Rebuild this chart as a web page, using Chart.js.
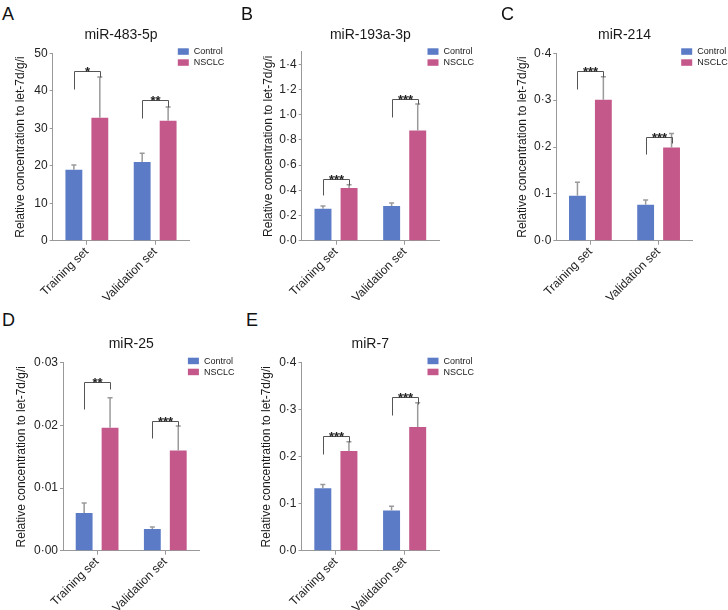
<!DOCTYPE html>
<html><head><meta charset="utf-8">
<script src="https://cdn.jsdelivr.net/npm/chart.js@4/dist/chart.umd.min.js"></script>
<style>
html,body{margin:0;padding:0;background:#fff}
body{width:728px;height:610px;position:relative;overflow:hidden;font-family:"Liberation Sans",Arial,sans-serif}
canvas{position:absolute}
.lbl{position:absolute;font-size:18px;line-height:18px;color:#111;font-family:"Liberation Sans",Arial,sans-serif}
</style></head><body>
<script>
// ---------- DATA ----------
const categories = ['Training set', 'Validation set'];
const seriesNames = ['Control', 'NSCLC'];
const panelLetters = ['A', 'B', 'C', 'D', 'E'];
const panelTitles = ['miR-483-5p', 'miR-193a-3p', 'miR-214', 'miR-25', 'miR-7'];
const yAxisTitle = 'Relative concentration to let-7d/g/i';

// A: miR-483-5p
const aControl = [18.9, 21.0];
const aControlErr = [1.3, 2.3];
const aNsclc = [32.8, 32.0];
const aNsclcErr = [10.9, 3.7];
const aSigLevel = [45.2, 37.6];
const aSigLabels = ['*', '**'];
const aTicks = {max: 50, top: 50, step: 10, decimals: 0};

// B: miR-193a-3p
const bControl = [0.253, 0.275];
const bControlErr = [0.022, 0.025];
const bNsclc = [0.419, 0.875];
const bNsclcErr = [0.026, 0.21];
const bSigLevel = [0.488, 1.128];
const bSigLabels = ['***', '***'];
const bTicks = {max: 1.5, top: 1.4, step: 0.2, decimals: 1};

// C: miR-214
const cControl = [0.096, 0.077];
const cControlErr = [0.029, 0.010];
const cNsclc = [0.301, 0.199];
const cNsclcErr = [0.049, 0.030];
const cSigLevel = [0.363, 0.2206];
const cSigLabels = ['***', '***'];
const cTicks = {max: 0.4, top: 0.4, step: 0.1, decimals: 1};

// D: miR-25
const dControl = [0.0060, 0.00347];
const dControlErr = [0.0016, 0.00032];
const dNsclc = [0.0196, 0.0160];
const dNsclcErr = [0.0048, 0.0039];
const dSigLevel = [0.02685, 0.02071];
const dSigLabels = ['**', '***'];
const dTicks = {max: 0.03, top: 0.03, step: 0.01, decimals: 2};

// E: miR-7
const eControl = [0.133, 0.0854];
const eControlErr = [0.008, 0.0093];
const eNsclc = [0.212, 0.263];
const eNsclcErr = [0.020, 0.052];
const eSigLevel = [0.2441, 0.326];
const eSigLabels = ['***', '***'];
const eTicks = {max: 0.4, top: 0.4, step: 0.1, decimals: 1};

// ---------- STYLE / LAYOUT ----------
const FONT = '"Liberation Sans", Arial, sans-serif';
const COLORS = ['#5b7bc6', '#c5588a'];
const layouts = [
  {left: 0,   top: 0,   w: 243, h: 305, cl: 52.7, cr: 189.3, ct: 53.3, cb: 240.7, hy: 53.3, tx: 20.5, legs: [[18, 6], [18, 7]], lx: 2,   ly: 4.7},
  {left: 243, top: 0,   w: 243, h: 305, cl: 58.7, cr: 196,   ct: 51.7, cb: 240.7, hy: 53.3, tx: 25.5, legs: [[16, 6], [18, 5]], lx: 241, ly: 4.7},
  {left: 486, top: 0,   w: 242, h: 305, cl: 70.3, cr: 206.7, ct: 53.3, cb: 240.7, hy: 53.3, tx: 37,   legs: [[18, 6], [17, 6]], lx: 501, ly: 4.7},
  {left: 0,   top: 305, w: 243, h: 305, cl: 63,   cr: 199.4, ct: 57.7, cb: 245.7, hy: 57.7, tx: 22,   legs: [[27, 7], [17, 5]], lx: 2,   ly: 310.5},
  {left: 243, top: 305, w: 243, h: 305, cl: 58.5, cr: 196,   ct: 57.7, cb: 245.7, hy: 57.7, tx: 24,   legs: [[18, 6], [18, 7]], lx: 246, ly: 310.5}
];

const panels = [
  {ctl: aControl, ctlErr: aControlErr, ns: aNsclc, nsErr: aNsclcErr, sig: aSigLevel, sigLabels: aSigLabels, ticks: aTicks},
  {ctl: bControl, ctlErr: bControlErr, ns: bNsclc, nsErr: bNsclcErr, sig: bSigLevel, sigLabels: bSigLabels, ticks: bTicks},
  {ctl: cControl, ctlErr: cControlErr, ns: cNsclc, nsErr: cNsclcErr, sig: cSigLevel, sigLabels: cSigLabels, ticks: cTicks},
  {ctl: dControl, ctlErr: dControlErr, ns: dNsclc, nsErr: dNsclcErr, sig: dSigLevel, sigLabels: dSigLabels, ticks: dTicks},
  {ctl: eControl, ctlErr: eControlErr, ns: eNsclc, nsErr: eNsclcErr, sig: eSigLevel, sigLabels: eSigLabels, ticks: eTicks}
];

const overlay = {
  id: 'overlay',
  afterDatasetsDraw(chart, args, o) {
    const ctx = chart.ctx;
    const ys = chart.scales.y;
    ctx.save();
    o.errors.forEach((errArr, di) => {
      const meta = chart.getDatasetMeta(di);
      meta.data.forEach((bar, j) => {
        const v = chart.data.datasets[di].data[j];
        const top = ys.getPixelForValue(v + errArr[j]);
        ctx.strokeStyle = '#9a9a9a';
        ctx.lineWidth = 1.5;
        ctx.beginPath();
        ctx.moveTo(bar.x, bar.y);
        ctx.lineTo(bar.x, top);
        ctx.moveTo(bar.x - 2.5, top);
        ctx.lineTo(bar.x + 2.5, top);
        ctx.stroke();
      });
    });
    const m0 = chart.getDatasetMeta(0), m1 = chart.getDatasetMeta(1);
    o.sig.forEach((lvl, j) => {
      const y = Math.round(ys.getPixelForValue(lvl)) + 0.5;
      const x0 = Math.round(m0.data[j].x) + 0.5, x1 = Math.round(m1.data[j].x) + 0.5;
      ctx.strokeStyle = '#555';
      ctx.lineWidth = 1;
      ctx.beginPath();
      ctx.moveTo(x0, y + o.legs[j][0]);
      ctx.lineTo(x0, y);
      ctx.lineTo(x1, y);
      ctx.lineTo(x1, y + o.legs[j][1]);
      ctx.stroke();
      ctx.fillStyle = '#222';
      ctx.font = 'bold 13px ' + FONT;
      ctx.textAlign = 'center';
      ctx.textBaseline = 'alphabetic';
      ctx.fillText(o.sigLabels[j], (x0 + x1) / 2, y + 4);
    });
    ctx.restore();
  },
  afterDraw(chart, args, o) {
    const ctx = chart.ctx;
    const ca = chart.chartArea;
    ctx.save();
    ctx.fillStyle = '#1a1a1a';
    ctx.font = '14px ' + FONT;
    ctx.textAlign = 'center';
    ctx.textBaseline = 'alphabetic';
    ctx.fillText(o.title, (ca.left + ca.right) / 2, o.hy - 14.5);
    const sx = ca.right - 11.5;
    chart.data.datasets.forEach((ds, i) => {
      const sy = o.hy - 5 + i * 11;
      ctx.fillStyle = ds.backgroundColor;
      ctx.fillRect(sx, sy, 11, 6.5);
      ctx.fillStyle = '#1a1a1a';
      ctx.font = '9px ' + FONT;
      ctx.textAlign = 'left';
      ctx.textBaseline = 'middle';
      ctx.fillText(ds.label, sx + 16, sy + 3.5);
    });
    ctx.restore();
  }
};

panels.forEach((p, k) => {
  const L = layouts[k];
  const letter = document.createElement('div');
  letter.className = 'lbl';
  letter.style.left = L.lx + 'px';
  letter.style.top = L.ly + 'px';
  letter.textContent = panelLetters[k];
  document.body.appendChild(letter);

  const cv = document.createElement('canvas');
  cv.width = L.w; cv.height = L.h;
  cv.style.left = L.left + 'px'; cv.style.top = L.top + 'px';
  cv.style.width = L.w + 'px'; cv.style.height = L.h + 'px';
  document.body.appendChild(cv);

  const fmt = v => v.toFixed(p.ticks.decimals).replace('.', '\u00B7');

  new Chart(cv.getContext('2d'), {
    type: 'bar',
    data: {
      labels: categories,
      datasets: [
        {label: seriesNames[0], data: p.ctl, backgroundColor: COLORS[0]},
        {label: seriesNames[1], data: p.ns, backgroundColor: COLORS[1]}
      ]
    },
    options: {
      responsive: false,
      animation: false,
      devicePixelRatio: 1,
      categoryPercentage: 0.76,
      barPercentage: 0.65,
      layout: {padding: {left: 0, top: L.ct, right: L.w - L.cr, bottom: 0}},
      plugins: {
        legend: {display: false},
        tooltip: {enabled: false},
        title: {display: false},
        overlay: {
          errors: [p.ctlErr, p.nsErr], sig: p.sig, sigLabels: p.sigLabels,
          legs: L.legs, title: panelTitles[k], hy: L.hy
        }
      },
      scales: {
        x: {
          afterFit: s => { s.height = L.h - L.cb; },
          grid: {display: true, drawOnChartArea: false, offset: false, drawTicks: true, tickLength: 4, color: '#999'},
          border: {display: true, color: '#999', width: 1},
          ticks: {minRotation: 45, maxRotation: 45, color: '#222', padding: 0, font: {family: FONT, size: 12}}
        },
        y: {
          min: 0, max: p.ticks.max,
          afterFit: s => { s.width = L.cl; },
          afterBuildTicks: s => { s.ticks = s.ticks.filter(t => t.value <= p.ticks.top + 1e-9); },
          grid: {display: true, drawOnChartArea: false, drawTicks: true, tickLength: 3, color: '#999'},
          border: {display: true, color: '#999', width: 1},
          ticks: {stepSize: p.ticks.step, includeBounds: false, color: '#222', padding: 2, font: {family: FONT, size: 12}, callback: v => fmt(v)},
          title: {display: true, text: yAxisTitle, color: '#1a1a1a', font: {family: FONT, size: 12}, padding: {top: L.tx - 7.2, bottom: 0}}
        }
      }
    },
    plugins: [overlay]
  });
});
</script>
</body></html>
